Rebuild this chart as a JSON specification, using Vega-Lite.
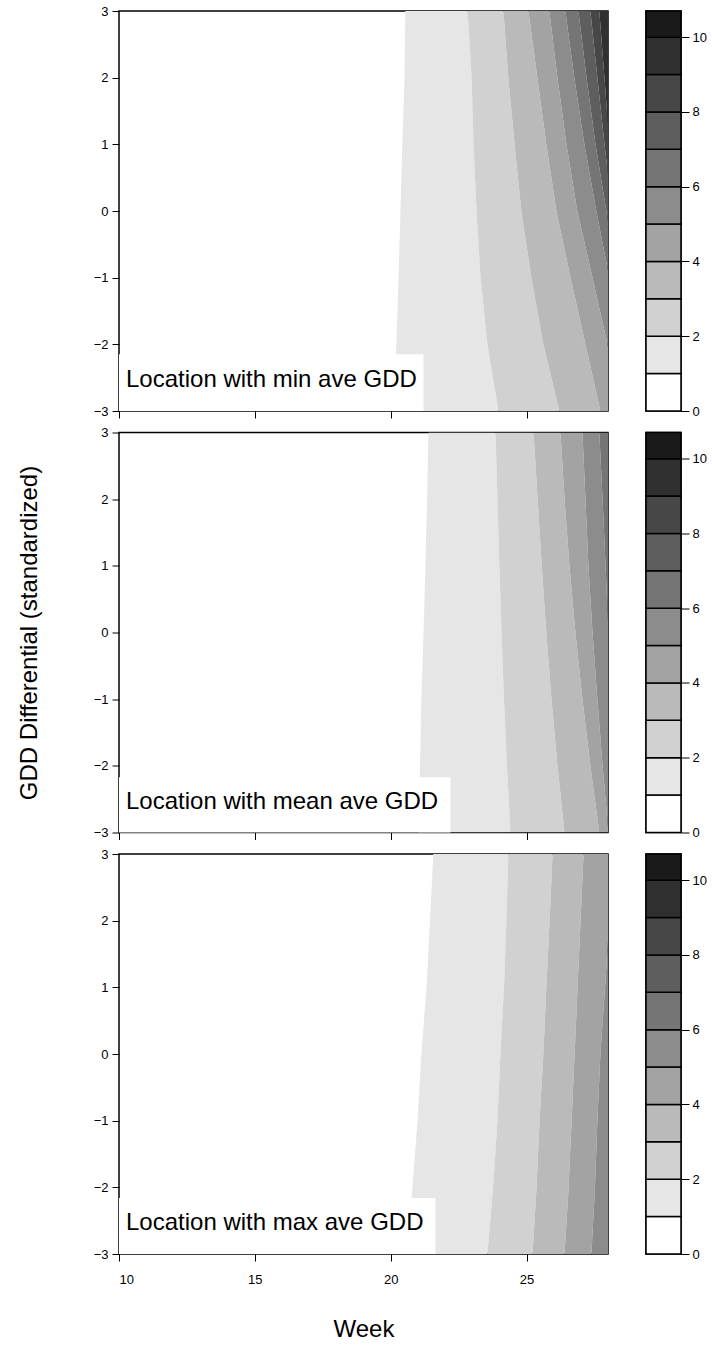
{
  "$schema": "https://vega.github.io/schema/vega-lite/v6.json",
  "padding": {"left": 16, "top": 4, "right": 0, "bottom": 0},
  "background": "white",
  "spacing": 5.5,
  "config": {
    "view": {"stroke": "black", "strokeWidth": 1.5},
    "font": "Liberation Sans",
    "axis": {"labelColor": "black", "tickColor": "black", "titleColor": "black", "labelFont": "Liberation Sans", "titleFont": "Liberation Sans", "grid": false, "domain": false, "labelFontSize": 13, "tickSize": 7, "tickWidth": 1, "titleFontWeight": "normal", "titleFontSize": 24, "format": "d"}
  },
  "datasets": {
    "labels": [
      {"panel": 1, "label": "Location with min ave GDD"},
      {"panel": 2, "label": "Location with mean ave GDD"},
      {"panel": 3, "label": "Location with max ave GDD"}
    ],
    "key": [
      {"level": 0, "zlo": 0, "zhi": 1}, {"level": 1, "zlo": 1, "zhi": 2}, {"level": 2, "zlo": 2, "zhi": 3},
      {"level": 3, "zlo": 3, "zhi": 4}, {"level": 4, "zlo": 4, "zhi": 5}, {"level": 5, "zlo": 5, "zhi": 6},
      {"level": 6, "zlo": 6, "zhi": 7}, {"level": 7, "zlo": 7, "zhi": 8}, {"level": 8, "zlo": 8, "zhi": 9},
      {"level": 9, "zlo": 9, "zhi": 10}, {"level": 10, "zlo": 10, "zhi": 10.7}
    ],
    "bands": [
      {"panel":1,"level":1,"y":3,"lo":20.54,"hi":22.83},{"panel":1,"level":1,"y":2,"lo":20.51,"hi":22.98},{"panel":1,"level":1,"y":1,"lo":20.43,"hi":23.05},{"panel":1,"level":1,"y":0,"lo":20.36,"hi":23.16},{"panel":1,"level":1,"y":-1,"lo":20.29,"hi":23.31},{"panel":1,"level":1,"y":-2,"lo":20.21,"hi":23.56},{"panel":1,"level":1,"y":-3,"lo":20.10,"hi":23.97},
      {"panel":1,"level":2,"y":3,"lo":22.83,"hi":24.15},{"panel":1,"level":2,"y":2,"lo":22.98,"hi":24.33},{"panel":1,"level":2,"y":1,"lo":23.05,"hi":24.56},{"panel":1,"level":2,"y":0,"lo":23.16,"hi":24.81},{"panel":1,"level":2,"y":-1,"lo":23.31,"hi":25.18},{"panel":1,"level":2,"y":-2,"lo":23.56,"hi":25.62},{"panel":1,"level":2,"y":-3,"lo":23.97,"hi":26.21},
      {"panel":1,"level":3,"y":3,"lo":24.15,"hi":25.07},{"panel":1,"level":3,"y":2,"lo":24.33,"hi":25.40},{"panel":1,"level":3,"y":1,"lo":24.56,"hi":25.73},{"panel":1,"level":3,"y":0,"lo":24.81,"hi":26.10},{"panel":1,"level":3,"y":-1,"lo":25.18,"hi":26.62},{"panel":1,"level":3,"y":-2,"lo":25.62,"hi":27.17},{"panel":1,"level":3,"y":-3,"lo":26.21,"hi":27.72},
      {"panel":1,"level":4,"y":3,"lo":25.07,"hi":25.84},{"panel":1,"level":4,"y":2,"lo":25.40,"hi":26.14},{"panel":1,"level":4,"y":1,"lo":25.73,"hi":26.47},{"panel":1,"level":4,"y":0,"lo":26.10,"hi":26.87},{"panel":1,"level":4,"y":-1,"lo":26.62,"hi":27.43},{"panel":1,"level":4,"y":-2,"lo":27.17,"hi":27.98},{"panel":1,"level":4,"y":-3,"lo":27.72,"hi":28.46},
      {"panel":1,"level":5,"y":3,"lo":25.84,"hi":26.43},{"panel":1,"level":5,"y":2,"lo":26.14,"hi":26.76},{"panel":1,"level":5,"y":1,"lo":26.47,"hi":27.13},{"panel":1,"level":5,"y":0,"lo":26.87,"hi":27.57},{"panel":1,"level":5,"y":-1,"lo":27.43,"hi":28.05},{"panel":1,"level":5,"y":-2,"lo":27.98,"hi":28.53},{"panel":1,"level":5,"y":-3,"lo":28.46,"hi":29.01},
      {"panel":1,"level":6,"y":3,"lo":26.43,"hi":26.91},{"panel":1,"level":6,"y":2,"lo":26.76,"hi":27.21},{"panel":1,"level":6,"y":1,"lo":27.13,"hi":27.54},{"panel":1,"level":6,"y":0,"lo":27.57,"hi":27.94},{"panel":1,"level":6,"y":-1,"lo":28.05,"hi":28.31},
      {"panel":1,"level":7,"y":3,"lo":26.91,"hi":27.35},{"panel":1,"level":7,"y":2,"lo":27.21,"hi":27.61},{"panel":1,"level":7,"y":1,"lo":27.54,"hi":27.87},{"panel":1,"level":7,"y":0,"lo":27.94,"hi":28.16},{"panel":1,"level":7,"y":-1,"lo":28.31,"hi":28.46},
      {"panel":1,"level":8,"y":3,"lo":27.35,"hi":27.68},{"panel":1,"level":8,"y":2,"lo":27.61,"hi":27.87},{"panel":1,"level":8,"y":1,"lo":27.87,"hi":28.05},{"panel":1,"level":8,"y":0,"lo":28.16,"hi":28.24},
      {"panel":1,"level":9,"y":3,"lo":27.68,"hi":28.1},{"panel":1,"level":9,"y":2,"lo":27.87,"hi":28.1},{"panel":1,"level":9,"y":1,"lo":28.05,"hi":28.1},

      {"panel":2,"level":1,"y":3,"lo":21.39,"hi":23.86},{"panel":2,"level":1,"y":2,"lo":21.34,"hi":23.93},{"panel":2,"level":1,"y":1,"lo":21.28,"hi":24.00},{"panel":2,"level":1,"y":0,"lo":21.21,"hi":24.08},{"panel":2,"level":1,"y":-1,"lo":21.13,"hi":24.17},{"panel":2,"level":1,"y":-2,"lo":21.08,"hi":24.28},{"panel":2,"level":1,"y":-3,"lo":21.02,"hi":24.41},
      {"panel":2,"level":2,"y":3,"lo":23.86,"hi":25.26},{"panel":2,"level":2,"y":2,"lo":23.93,"hi":25.41},{"panel":2,"level":2,"y":1,"lo":24.00,"hi":25.56},{"panel":2,"level":2,"y":0,"lo":24.08,"hi":25.73},{"panel":2,"level":2,"y":-1,"lo":24.17,"hi":25.92},{"panel":2,"level":2,"y":-2,"lo":24.28,"hi":26.14},{"panel":2,"level":2,"y":-3,"lo":24.41,"hi":26.40},
      {"panel":2,"level":3,"y":3,"lo":25.26,"hi":26.25},{"panel":2,"level":3,"y":2,"lo":25.41,"hi":26.40},{"panel":2,"level":3,"y":1,"lo":25.56,"hi":26.58},{"panel":2,"level":3,"y":0,"lo":25.73,"hi":26.80},{"panel":2,"level":3,"y":-1,"lo":25.92,"hi":27.06},{"panel":2,"level":3,"y":-2,"lo":26.14,"hi":27.35},{"panel":2,"level":3,"y":-3,"lo":26.40,"hi":27.68},
      {"panel":2,"level":4,"y":3,"lo":26.25,"hi":27.06},{"panel":2,"level":4,"y":2,"lo":26.40,"hi":27.17},{"panel":2,"level":4,"y":1,"lo":26.58,"hi":27.28},{"panel":2,"level":4,"y":0,"lo":26.80,"hi":27.43},{"panel":2,"level":4,"y":-1,"lo":27.06,"hi":27.61},{"panel":2,"level":4,"y":-2,"lo":27.35,"hi":27.80},{"panel":2,"level":4,"y":-3,"lo":27.68,"hi":28.02},
      {"panel":2,"level":5,"y":3,"lo":27.06,"hi":27.68},{"panel":2,"level":5,"y":2,"lo":27.17,"hi":27.80},{"panel":2,"level":5,"y":1,"lo":27.28,"hi":27.91},{"panel":2,"level":5,"y":0,"lo":27.43,"hi":28.02},{"panel":2,"level":5,"y":-1,"lo":27.61,"hi":28.13},{"panel":2,"level":5,"y":-2,"lo":27.80,"hi":28.24},{"panel":2,"level":5,"y":-3,"lo":28.02,"hi":28.35},
      {"panel":2,"level":6,"y":3,"lo":27.68,"hi":28.1},{"panel":2,"level":6,"y":2,"lo":27.80,"hi":28.1},{"panel":2,"level":6,"y":1,"lo":27.91,"hi":28.1},{"panel":2,"level":6,"y":0,"lo":28.02,"hi":28.1},

      {"panel":3,"level":1,"y":3,"lo":21.57,"hi":24.33},{"panel":3,"level":1,"y":2,"lo":21.45,"hi":24.26},{"panel":3,"level":1,"y":1,"lo":21.32,"hi":24.17},{"panel":3,"level":1,"y":0,"lo":21.13,"hi":24.04},{"panel":3,"level":1,"y":-1,"lo":20.99,"hi":23.93},{"panel":3,"level":1,"y":-2,"lo":20.80,"hi":23.77},{"panel":3,"level":1,"y":-3,"lo":20.62,"hi":23.56},
      {"panel":3,"level":2,"y":3,"lo":24.33,"hi":25.96},{"panel":3,"level":2,"y":2,"lo":24.26,"hi":25.85},{"panel":3,"level":2,"y":1,"lo":24.17,"hi":25.73},{"panel":3,"level":2,"y":0,"lo":24.04,"hi":25.62},{"panel":3,"level":2,"y":-1,"lo":23.93,"hi":25.48},{"panel":3,"level":2,"y":-2,"lo":23.77,"hi":25.37},{"panel":3,"level":2,"y":-3,"lo":23.56,"hi":25.22},
      {"panel":3,"level":3,"y":3,"lo":25.96,"hi":27.10},{"panel":3,"level":3,"y":2,"lo":25.85,"hi":26.99},{"panel":3,"level":3,"y":1,"lo":25.73,"hi":26.88},{"panel":3,"level":3,"y":0,"lo":25.62,"hi":26.77},{"panel":3,"level":3,"y":-1,"lo":25.48,"hi":26.66},{"panel":3,"level":3,"y":-2,"lo":25.37,"hi":26.55},{"panel":3,"level":3,"y":-3,"lo":25.22,"hi":26.40},
      {"panel":3,"level":4,"y":3,"lo":27.10,"hi":28.16},{"panel":3,"level":4,"y":2,"lo":26.99,"hi":28.05},{"panel":3,"level":4,"y":1,"lo":26.88,"hi":27.89},{"panel":3,"level":4,"y":0,"lo":26.77,"hi":27.72},{"panel":3,"level":4,"y":-1,"lo":26.66,"hi":27.61},{"panel":3,"level":4,"y":-2,"lo":26.55,"hi":27.52},{"panel":3,"level":4,"y":-3,"lo":26.40,"hi":27.39},
      {"panel":3,"level":5,"y":3,"lo":28.16,"hi":28.2},{"panel":3,"level":5,"y":2,"lo":28.05,"hi":28.1},{"panel":3,"level":5,"y":1,"lo":27.89,"hi":28.1},{"panel":3,"level":5,"y":0,"lo":27.72,"hi":28.1},{"panel":3,"level":5,"y":-1,"lo":27.61,"hi":28.1},{"panel":3,"level":5,"y":-2,"lo":27.52,"hi":28.1},{"panel":3,"level":5,"y":-3,"lo":27.39,"hi":28.1}
    ]
  },
  "vconcat": [
    {
      "spacing": 35,
      "hconcat": [
        {
          "width": 489, "height": 400,
          "layer": [
            {
              "data": {"name": "bands"}, "transform": [{"filter": "datum.panel == 1"}],
              "mark": {"type": "area", "orient": "horizontal", "clip": true},
              "encoding": {
                "y": {"field": "y", "type": "quantitative", "scale": {"domain": [-3, 3], "nice": false, "zero": false}, "axis": {"values": [-3, -2, -1, 0, 1, 2, 3], "title": null, "labelPadding": 4}},
                "x": {"field": "lo", "type": "quantitative", "stack": null, "scale": {"domain": [10, 28], "nice": false, "zero": false}, "axis": {"values": [10, 15, 20, 25], "labels": false, "title": null}},
                "x2": {"field": "hi"},
                "color": {"field": "level", "type": "ordinal", "scale": {"domain": [0,1,2,3,4,5,6,7,8,9,10], "range": ["#ffffff","#e6e6e6","#d1d1d1","#bababa","#a3a3a3","#8c8c8c","#757575","#5e5e5e","#474747","#303030","#1a1a1a"]}, "legend": null}
              }
            },
            {
              "data": {"name": "labels"}, "transform": [{"filter": "datum.panel == 1"}],
              "mark": {"type": "rect", "fill": "white"},
              "encoding": {"x": {"datum": 10}, "x2": {"datum": 21.21}, "y": {"datum": -3}, "y2": {"datum": -2.15}}
            },
            {
              "data": {"name": "labels"}, "transform": [{"filter": "datum.panel == 1"}],
              "mark": {"type": "text", "align": "left", "baseline": "alphabetic", "dx": 7, "dy": -24, "fontSize": 24, "font": "Liberation Sans", "color": "black"},
              "encoding": {"x": {"datum": 10}, "y": {"datum": -3}, "text": {"field": "label"}}
            }
          ]
        },
        {
          "width": 35, "height": 400,
          "data": {"name": "key"},
          "mark": {"type": "rect", "stroke": "black", "strokeWidth": 1.5},
          "encoding": {
            "y": {"field": "zlo", "type": "quantitative", "scale": {"domain": [0, 10.7], "nice": false, "zero": false}, "axis": {"orient": "right", "values": [0, 2, 4, 6, 8, 10], "title": null, "tickSize": 8, "labelPadding": 3}},
            "y2": {"field": "zhi"},
            "color": {"field": "level", "type": "ordinal", "scale": {"domain": [0,1,2,3,4,5,6,7,8,9,10], "range": ["#ffffff","#e6e6e6","#d1d1d1","#bababa","#a3a3a3","#8c8c8c","#757575","#5e5e5e","#474747","#303030","#1a1a1a"]}, "legend": null}
          }
        }
      ]
    },
    {
      "spacing": 35,
      "hconcat": [
        {
          "width": 489, "height": 400,
          "layer": [
            {
              "data": {"name": "bands"}, "transform": [{"filter": "datum.panel == 2"}],
              "mark": {"type": "area", "orient": "horizontal", "clip": true},
              "encoding": {
                "y": {"field": "y", "type": "quantitative", "scale": {"domain": [-3, 3], "nice": false, "zero": false}, "axis": {"values": [-3, -2, -1, 0, 1, 2, 3], "title": "GDD Differential (standardized)", "titlePadding": 52, "labelPadding": 4}},
                "x": {"field": "lo", "type": "quantitative", "stack": null, "scale": {"domain": [10, 28], "nice": false, "zero": false}, "axis": {"values": [10, 15, 20, 25], "labels": false, "title": null}},
                "x2": {"field": "hi"},
                "color": {"field": "level", "type": "ordinal", "scale": {"domain": [0,1,2,3,4,5,6,7,8,9,10], "range": ["#ffffff","#e6e6e6","#d1d1d1","#bababa","#a3a3a3","#8c8c8c","#757575","#5e5e5e","#474747","#303030","#1a1a1a"]}, "legend": null}
              }
            },
            {
              "data": {"name": "labels"}, "transform": [{"filter": "datum.panel == 2"}],
              "mark": {"type": "rect", "fill": "white"},
              "encoding": {"x": {"datum": 10}, "x2": {"datum": 22.2}, "y": {"datum": -3}, "y2": {"datum": -2.17}}
            },
            {
              "data": {"name": "labels"}, "transform": [{"filter": "datum.panel == 2"}],
              "mark": {"type": "text", "align": "left", "baseline": "alphabetic", "dx": 7, "dy": -24, "fontSize": 24, "font": "Liberation Sans", "color": "black"},
              "encoding": {"x": {"datum": 10}, "y": {"datum": -3}, "text": {"field": "label"}}
            }
          ]
        },
        {
          "width": 35, "height": 400,
          "data": {"name": "key"},
          "mark": {"type": "rect", "stroke": "black", "strokeWidth": 1.5},
          "encoding": {
            "y": {"field": "zlo", "type": "quantitative", "scale": {"domain": [0, 10.7], "nice": false, "zero": false}, "axis": {"orient": "right", "values": [0, 2, 4, 6, 8, 10], "title": null, "tickSize": 8, "labelPadding": 3}},
            "y2": {"field": "zhi"},
            "color": {"field": "level", "type": "ordinal", "scale": {"domain": [0,1,2,3,4,5,6,7,8,9,10], "range": ["#ffffff","#e6e6e6","#d1d1d1","#bababa","#a3a3a3","#8c8c8c","#757575","#5e5e5e","#474747","#303030","#1a1a1a"]}, "legend": null}
          }
        }
      ]
    },
    {
      "spacing": 35,
      "hconcat": [
        {
          "width": 489, "height": 400,
          "layer": [
            {
              "data": {"name": "bands"}, "transform": [{"filter": "datum.panel == 3"}],
              "mark": {"type": "area", "orient": "horizontal", "clip": true},
              "encoding": {
                "y": {"field": "y", "type": "quantitative", "scale": {"domain": [-3, 3], "nice": false, "zero": false}, "axis": {"values": [-3, -2, -1, 0, 1, 2, 3], "title": null, "labelPadding": 4}},
                "x": {"field": "lo", "type": "quantitative", "stack": null, "scale": {"domain": [10, 28], "nice": false, "zero": false}, "axis": {"values": [10, 15, 20, 25], "title": "Week", "labelPadding": 12, "titlePadding": 31}},
                "x2": {"field": "hi"},
                "color": {"field": "level", "type": "ordinal", "scale": {"domain": [0,1,2,3,4,5,6,7,8,9,10], "range": ["#ffffff","#e6e6e6","#d1d1d1","#bababa","#a3a3a3","#8c8c8c","#757575","#5e5e5e","#474747","#303030","#1a1a1a"]}, "legend": null}
              }
            },
            {
              "data": {"name": "labels"}, "transform": [{"filter": "datum.panel == 3"}],
              "mark": {"type": "rect", "fill": "white"},
              "encoding": {"x": {"datum": 10}, "x2": {"datum": 21.65}, "y": {"datum": -3}, "y2": {"datum": -2.16}}
            },
            {
              "data": {"name": "labels"}, "transform": [{"filter": "datum.panel == 3"}],
              "mark": {"type": "text", "align": "left", "baseline": "alphabetic", "dx": 7, "dy": -24, "fontSize": 24, "font": "Liberation Sans", "color": "black"},
              "encoding": {"x": {"datum": 10}, "y": {"datum": -3}, "text": {"field": "label"}}
            }
          ]
        },
        {
          "width": 35, "height": 400,
          "data": {"name": "key"},
          "mark": {"type": "rect", "stroke": "black", "strokeWidth": 1.5},
          "encoding": {
            "y": {"field": "zlo", "type": "quantitative", "scale": {"domain": [0, 10.7], "nice": false, "zero": false}, "axis": {"orient": "right", "values": [0, 2, 4, 6, 8, 10], "title": null, "tickSize": 8, "labelPadding": 3}},
            "y2": {"field": "zhi"},
            "color": {"field": "level", "type": "ordinal", "scale": {"domain": [0,1,2,3,4,5,6,7,8,9,10], "range": ["#ffffff","#e6e6e6","#d1d1d1","#bababa","#a3a3a3","#8c8c8c","#757575","#5e5e5e","#474747","#303030","#1a1a1a"]}, "legend": null}
          }
        }
      ]
    }
  ]
}
